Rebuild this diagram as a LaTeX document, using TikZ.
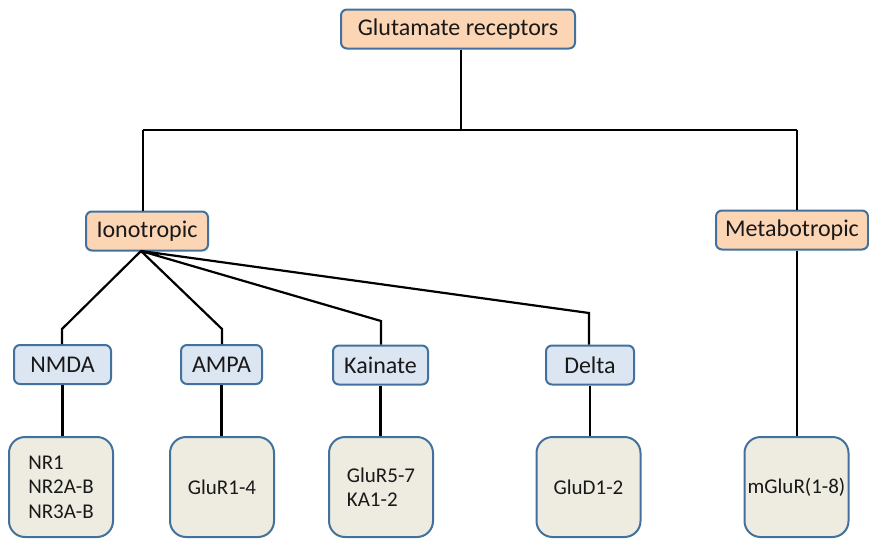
\documentclass[tikz,border=0pt]{standalone}
\usepackage{fontspec}
\setmainfont{Carlito}
\definecolor{boxline}{RGB}{65,113,156}
\definecolor{orangefill}{RGB}{252,213,181}
\definecolor{bluefill}{RGB}{220,230,242}
\definecolor{leaffill}{RGB}{238,236,225}
\tikzset{
 grp/.style={draw=boxline,line width=2pt,rounded corners=6pt,inner sep=0pt,minimum height=39pt,text=black!90,font=\fontsize{24}{29}\selectfont},
 maingrp/.style={grp,fill=orangefill},
 subgrp/.style={grp,fill=bluefill},
 leafbox/.style={draw=boxline,line width=2pt,rounded corners=16pt,fill=leaffill,minimum width=104pt,minimum height=100pt,inner sep=0pt,align=left,text=black!90,font=\fontsize{21}{24.5}\selectfont}
}
\begin{document}
\begin{tikzpicture}[x=1pt,y=-1pt,line width=2.2pt]
\useasboundingbox(0,0)rectangle(869,538);
\node[maingrp,minimum width=234pt](glu)at(458,29){Glutamate receptors};
\node[maingrp,minimum width=122pt](iono)at(147,231){Ionotropic};
\node[maingrp,minimum width=152pt](meta)at(792,230){Metabotropic};
\node[subgrp,minimum width=97pt](nmda)at(62.5,364.5){NMDA};
\node[subgrp,minimum width=81pt](ampa)at(221.5,364.5){AMPA};
\node[subgrp,minimum width=95pt](kain)at(380.5,365){Kainate};
\node[subgrp,minimum width=88pt](delta)at(590,365){Delta};
\node[leafbox](nr)at(61,487){NR1\\NR2A-B\\NR3A-B};
\node[leafbox](glua)at(222,487){GluR1-4};
\node[leafbox](gluk)at(381,487){GluR5-7\\KA1-2};
\node[leafbox](glud)at(588.5,487){GluD1-2};
\node[leafbox](mglu)at(796.5,487){mGluR(1-8)};
\coordinate(T)at(461,130);
\coordinate(L)at(143,130);
\coordinate(R)at(797,130);
\coordinate(F)at(141,251);
\coordinate(A)at(62,329);
\coordinate(B)at(222,329);
\coordinate(C)at(381,321);
\coordinate(D)at(589,313);
\draw(T|-glu.south)--(T)(L)--(R)(L)--(L|-iono.north)(R)--(R|-meta.north)
(R|-meta.south)--(R|-mglu.north);
\draw(F)--(A)--(A|-nmda.north)(F)--(B)--(B|-ampa.north)
(F)--(C)--(C|-kain.north)(F)--(D)--(D|-delta.north);
\draw(nmda.south)--(nmda.south|-nr.north)(ampa.south)--(ampa.south|-glua.north)
(kain.south)--(kain.south|-gluk.north)(delta.south)--(delta.south|-glud.north);
\end{tikzpicture}
\end{document}
